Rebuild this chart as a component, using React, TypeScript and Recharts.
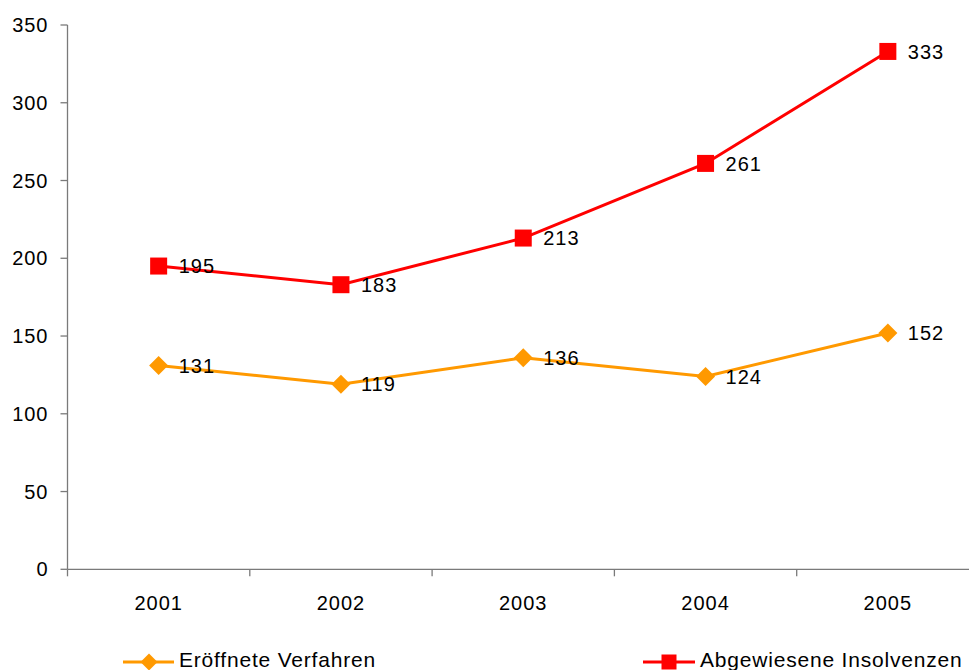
import { LineChart, Line, XAxis, YAxis, Legend, LabelList } from "recharts";

const years = ["2001", "2002", "2003", "2004", "2005"];
const eroeffnet = [131, 119, 136, 124, 152];
const abgewiesen = [195, 183, 213, 261, 333];
const yTicks = [0, 50, 100, 150, 200, 250, 300, 350];

const ORANGE = "#FF9900";
const RED = "#FF0000";
const AXIS = "#7a7a7a";
const FONT = "'Liberation Sans', Arial, sans-serif";

const data = years.map((year, i) => ({
  year,
  eroeffnet: eroeffnet[i],
  abgewiesen: abgewiesen[i],
}));

function Diamond(props: any) {
  const { cx, cy, half = 9.5 } = props;
  if (cx == null || cy == null) return null;
  return (
    <polygon
      points={`${cx},${cy - half} ${cx + half},${cy} ${cx},${cy + half} ${cx - half},${cy}`}
      fill={ORANGE}
    />
  );
}

function Square(props: any) {
  const { cx, cy, half = 8.5 } = props;
  if (cx == null || cy == null) return null;
  return <rect x={cx - half} y={cy - half} width={half * 2} height={half * 2} fill={RED} />;
}

function YearTick(props: any) {
  const { x, y, payload, index, visibleTicksCount } = props;
  const off = payload.offset || 0;
  const axisY = y - 26;
  const last = index === visibleTicksCount - 1;
  return (
    <g>
      <line x1={x - off} x2={x - off} y1={axisY} y2={axisY + 7} stroke={AXIS} strokeWidth={1.3} />
      {last && (
        <line x1={x + off} x2={x + off} y1={axisY} y2={axisY + 7} stroke={AXIS} strokeWidth={1.3} />
      )}
      <text
        x={x}
        y={y}
        dy="0.71em"
        textAnchor="middle"
        fontSize={20}
        letterSpacing={1}
        fontFamily={FONT}
        fill="#000"
      >
        {payload.value}
      </text>
    </g>
  );
}

// legend is cut off at the bottom edge, same as in the original
function ChartLegend() {
  return (
    <svg width={969} height={30}>
      <line x1={123} x2={174} y1={22} y2={22} stroke={ORANGE} strokeWidth={3} />
      <Diamond cx={149} cy={22} half={8.5} />
      <text x={179} y={26.5} fontSize={21} letterSpacing={0.8} fontFamily={FONT} fill="#000">
        Eröffnete Verfahren
      </text>
      <line x1={643} x2={695} y1={22} y2={22} stroke={RED} strokeWidth={3} />
      <Square cx={669} cy={22} half={7.5} />
      <text x={700} y={26.5} fontSize={21} letterSpacing={0.8} fontFamily={FONT} fill="#000">
        Abgewiesene Insolvenzen
      </text>
    </svg>
  );
}

export default function App() {
  return (
    <div
      style={{
        position: "absolute",
        left: 0,
        top: 0,
        width: 969,
        height: 670,
        overflow: "hidden",
        background: "#fff",
      }}
    >
      <LineChart
        width={990}
        height={670}
        data={data}
        margin={{ top: 25, right: 11, bottom: 0, left: 0 }}
      >
        <XAxis
          dataKey="year"
          scale="band"
          height={70.7}
          stroke={AXIS}
          strokeWidth={1.3}
          tickLine={false}
          tickSize={7}
          tickMargin={19}
          interval={0}
          tick={<YearTick />}
        />
        <YAxis
          width={67.5}
          domain={[0, 350]}
          ticks={yTicks}
          interval={0}
          stroke={AXIS}
          strokeWidth={1.3}
          tickSize={7}
          tickMargin={12}
          tick={{ fontSize: 20, fill: "#000", fontFamily: FONT, letterSpacing: 1 }}
        />
        <Legend
          verticalAlign="bottom"
          height={30}
          content={() => <ChartLegend />}
          wrapperStyle={{ left: 0, width: 969, height: 30 }}
        />
        <Line
          dataKey="eroeffnet"
          name="Eröffnete Verfahren"
          stroke={ORANGE}
          strokeWidth={3}
          dot={<Diamond />}
          activeDot={false}
          isAnimationActive={false}
        >
          <LabelList
            dataKey="eroeffnet"
            position="right"
            offset={20}
            fontSize={20}
            fill="#000"
            fontFamily={FONT}
            letterSpacing={1}
          />
        </Line>
        <Line
          dataKey="abgewiesen"
          name="Abgewiesene Insolvenzen"
          stroke={RED}
          strokeWidth={3}
          dot={<Square />}
          activeDot={false}
          isAnimationActive={false}
        >
          <LabelList
            dataKey="abgewiesen"
            position="right"
            offset={20}
            fontSize={20}
            fill="#000"
            fontFamily={FONT}
            letterSpacing={1}
          />
        </Line>
      </LineChart>
    </div>
  );
}
